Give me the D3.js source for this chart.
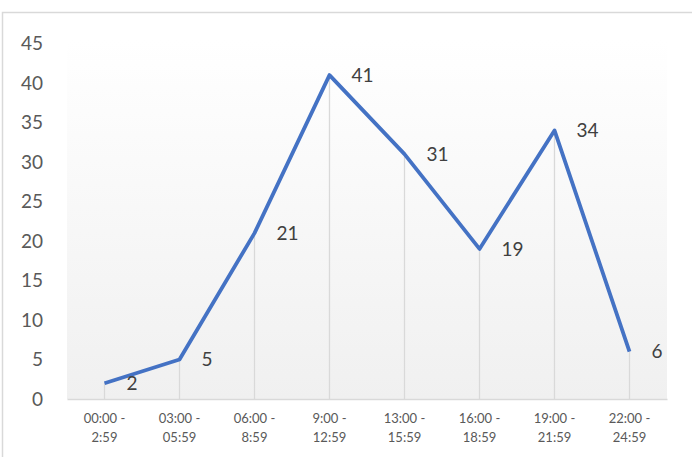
<!DOCTYPE html>
<html>
<head>
<meta charset="utf-8">
<script src="https://cdn.jsdelivr.net/npm/d3@7"></script>
<style>
  body { margin: 0; background: #fff; }
  svg text { font-family: Lato, "Open Sans", sans-serif; }
</style>
</head>
<body>
<svg id="chart" width="692" height="457"></svg>
<script>
const categories = [
  ["00:00 -", "2:59"],
  ["03:00 -", "05:59"],
  ["06:00 -", "8:59"],
  ["9:00 -", "12:59"],
  ["13:00 -", "15:59"],
  ["16:00 -", "18:59"],
  ["19:00 -", "21:59"],
  ["22:00 -", "24:59"]
];
const values = [2, 5, 21, 41, 31, 19, 34, 6];
const yTicks = [0, 5, 10, 15, 20, 25, 30, 35, 40, 45];

const svg = d3.select("#chart");
const margin = { top: 43.5, right: 25, bottom: 58, left: 67 };
const width = +svg.attr("width") - margin.left - margin.right;
const height = +svg.attr("height") - margin.top - margin.bottom;

// chart frame
svg.append("rect")
  .attr("x", 2.5).attr("y", 12.5)
  .attr("width", 720).attr("height", 500)
  .attr("fill", "#fff")
  .attr("stroke", "#d9d9d9")
  .attr("stroke-width", 1.5);

const defs = svg.append("defs");
const grad = defs.append("linearGradient")
  .attr("id", "plotbg")
  .attr("x1", 0).attr("y1", 0).attr("x2", 0).attr("y2", 1);
grad.append("stop").attr("offset", "0%").attr("stop-color", "#ffffff");
grad.append("stop").attr("offset", "100%").attr("stop-color", "#f0f0f0");

const g = svg.append("g")
  .attr("transform", `translate(${margin.left}, ${margin.top})`);

const x = d3.scaleBand()
  .domain(d3.range(categories.length))
  .range([0, width]);

const y = d3.scaleLinear()
  .domain([0, 45])
  .range([height, 0]);

const cx = i => x(i) + x.bandwidth() / 2;

g.append("rect")
  .attr("x", 0).attr("y", -4)
  .attr("width", width).attr("height", height + 4)
  .attr("fill", "url(#plotbg)");

// drop lines
g.selectAll(".drop")
  .data(values)
  .enter()
  .append("line")
  .attr("class", "drop")
  .attr("x1", (d, i) => cx(i))
  .attr("x2", (d, i) => cx(i))
  .attr("y1", d => y(d))
  .attr("y2", height)
  .attr("stroke", "#d9d9d9")
  .attr("stroke-width", 1.3);

// x axis
const xAxis = d3.axisBottom(x).tickSize(0).tickFormat(() => "");
g.append("g")
  .attr("transform", `translate(0, ${height})`)
  .call(xAxis)
  .call(s => s.select(".domain").attr("stroke", "#d9d9d9").attr("stroke-width", 1.5));

const xLabels = g.append("g").selectAll(".xl")
  .data(categories)
  .enter()
  .append("text")
  .attr("class", "xl")
  .attr("text-anchor", "middle")
  .attr("fill", "#595959")
  .attr("font-size", "13px")
  .attr("transform", (d, i) => `translate(${cx(i)}, ${height + 24})`);
xLabels.append("tspan").attr("x", 0).attr("y", 0).text(d => d[0]);
xLabels.append("tspan").attr("x", 0).attr("y", 19).text(d => d[1]);

// y axis
const yAxis = d3.axisLeft(y).tickValues(yTicks).tickSize(0).tickPadding(24);
g.append("g")
  .call(yAxis)
  .call(s => s.select(".domain").remove())
  .call(s => s.selectAll(".tick text")
    .attr("fill", "#595959")
    .attr("font-size", "19px")
    .attr("font-family", "Lato, sans-serif"));

// line
const valueline = d3.line()
  .x((d, i) => cx(i))
  .y(d => y(d));

g.append("path")
  .datum(values)
  .attr("d", valueline)
  .attr("fill", "none")
  .attr("stroke", "#4472c4")
  .attr("stroke-width", 3.8)
  .attr("stroke-linejoin", "round");

// data labels
g.selectAll(".dl")
  .data(values)
  .enter()
  .append("text")
  .attr("class", "dl")
  .attr("x", (d, i) => cx(i) + 22)
  .attr("y", d => y(d))
  .attr("dy", "0.36em")
  .attr("fill", "#404040")
  .attr("font-size", "19px")
  .text(d => d);
</script>
</body>
</html>
